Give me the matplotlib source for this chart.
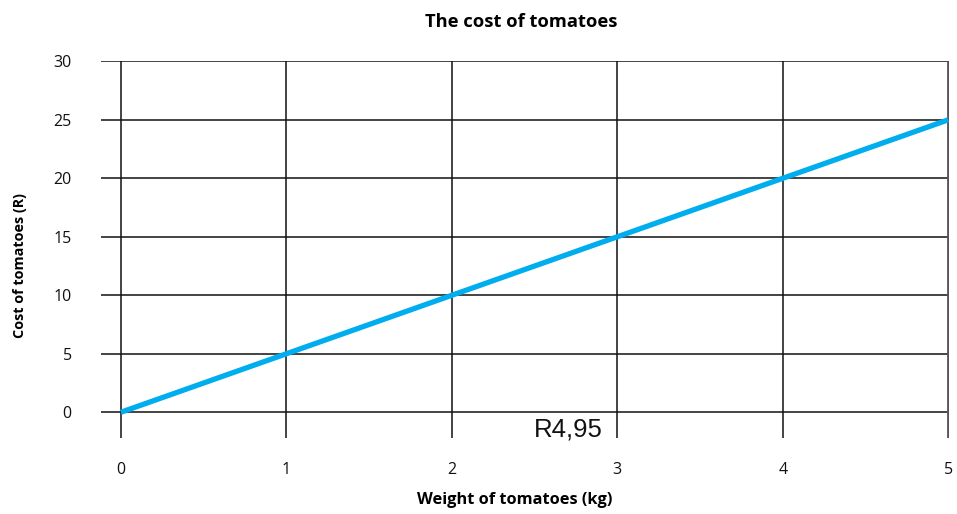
import matplotlib
matplotlib.use("Agg")
import matplotlib.pyplot as plt

weights = [0, 1, 2, 3, 4, 5]
costs = [0, 5, 10, 15, 20, 25]
x_ticks = [0, 1, 2, 3, 4, 5]
y_ticks = [0, 5, 10, 15, 20, 25, 30]
title = "The cost of tomatoes"
x_label = "Weight of tomatoes (kg)"
y_label = "Cost of tomatoes (R)"
annotation = "R4,95"

W, H = 957, 514
fig = plt.figure(figsize=(W / 100, H / 100), dpi=100)
ax = fig.add_axes([101 / W, 1 - 438 / H, (949 - 101) / W, (438 - 61) / H])
ax.set_xlim(-0.12, 5.005)
ax.set_ylim(-2.2, 30.03)

for y in y_ticks:
    ax.axhline(y, color="#111111", lw=1.1, zorder=1)
for x in x_ticks:
    ax.axvline(x, color="#111111" if x < 5 else "#555555", lw=1.1 if x < 5 else 2.0, zorder=1)

ax.plot(weights, costs, color="#00ADEE", lw=3.8, solid_capstyle="butt", zorder=3)

for s in ax.spines.values():
    s.set_visible(False)
ax.set_xticks(x_ticks)
ax.set_yticks(y_ticks)
ax.tick_params(axis="both", length=0, labelsize=11.5, labelcolor="#111111")
ax.tick_params(axis="y", pad=21)
ax.tick_params(axis="x", pad=17)
for lab in ax.get_xticklabels() + ax.get_yticklabels():
    lab.set_fontfamily("Open Sans")
    lab.set_clip_on(False)

ax.text(2.915, -1.5, annotation, ha="right", va="center", fontsize=18.5,
        family="Liberation Sans", color="#111111")

fig.text(521 / W, 1 - 22 / H, title, ha="center", va="center", fontsize=13.2,
         family="Open Sans", fontweight="bold")
fig.text(515 / W, 1 - 500 / H, x_label, ha="center", va="center", fontsize=11.8,
         family="Open Sans", fontweight="bold")
fig.text(20 / W, 1 - 266 / H, y_label, ha="center", va="center", fontsize=10.4,
         family="Open Sans", fontweight="bold", rotation=90)

fig.savefig("out.png", dpi=100)
